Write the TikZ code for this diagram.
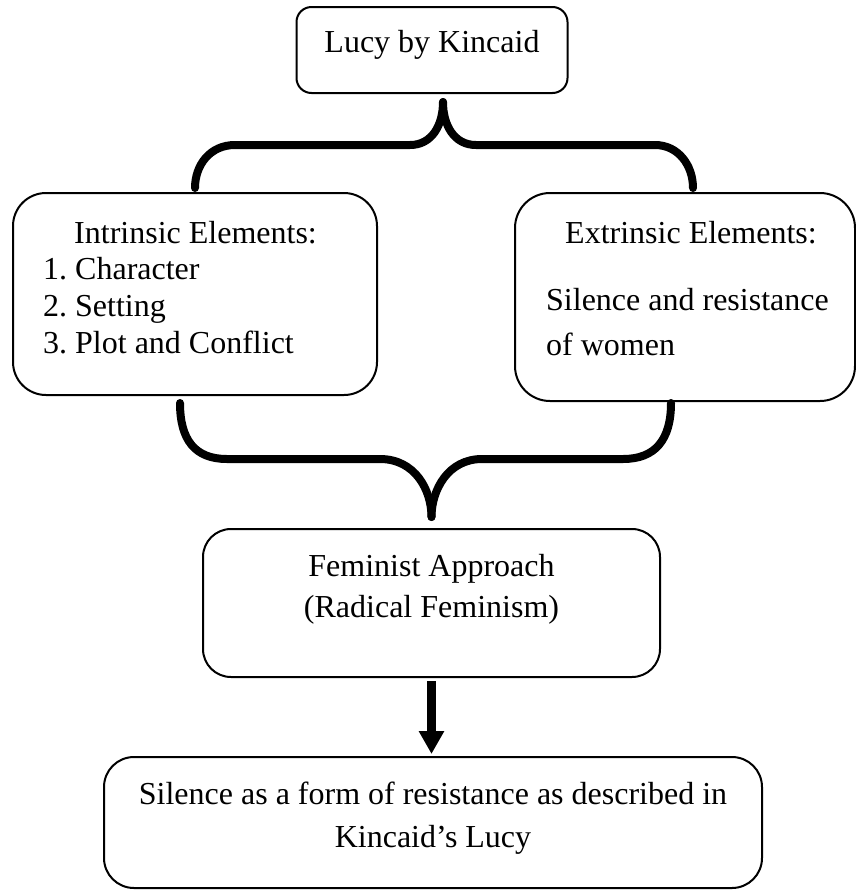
\documentclass[tikz,border=0pt]{standalone}
\usepackage{fontspec}
\setmainfont{Liberation Serif}
\usetikzlibrary{arrows.meta}
\frenchspacing

\begin{document}
\begin{tikzpicture}[x=1pt, y=-1pt,
    box/.style={draw, line width=2pt, rounded corners=#1, inner sep=0pt},
    box/.default=20pt,
    brace/.style={line width=8pt, line cap=round},
    txt/.style={font=\fontsize{32}{41}\selectfont, inner sep=0pt}]
    \useasboundingbox (0,0) rectangle (856,892);

    % Title
    \node[box=15pt, minimum width=271pt, minimum height=86pt] (lucy) at (432,50) {};
    \node[txt, anchor=base] (lucytxt) at (432,52) {Lucy by Kincaid};

    % Intrinsic
    \node[box=33pt, minimum width=364pt, minimum height=202pt] (intr) at (195,294) {};
    \node[txt, anchor=base west] (intrhead) at (74,243) {Intrinsic Elements:};
    \foreach \el [count=\i] in {1. Character, 2. Setting, 3. Plot and Conflict}
        \node[txt, anchor=base west] (intr\i) at (43,243+36.7*\i) {\el};

    % Extrinsic
    \node[box=35pt, minimum width=340pt, minimum height=208pt] (extr) at (685,297) {};
    \node[txt, anchor=base west] (extrhead) at (565,243) {Extrinsic Elements:};
    \node[txt, anchor=base west] (extr1) at (546,310) {Silence and resistance};
    \node[txt, anchor=base west] (extr2) at (546,355) {of women};

    % Approach
    \node[box=28pt, minimum width=457pt, minimum height=148pt] (fem) at (431.5,603) {};
    \node[txt, anchor=base] (fem1) at (431.5,576) {Feminist Approach};
    \node[txt, anchor=base] (fem2) at (431.5,617) {(Radical Feminism)};

    % Result
    \node[box=30pt, minimum width=658pt, minimum height=131pt] (sil) at (433,822.5) {};
    \node[txt, anchor=base] (sil1) at (433,804) {Silence as a form of resistance as described in};
    \node[txt, anchor=base] (sil2) at (433,847) {Kincaid’s Lucy};

    % Braces
    \draw[brace] ([yshift=4pt]intr.north) .. controls (195,165) and (210,145) .. (235,145)
        -- (410,145) .. controls (432,145) and (443,125) .. ([xshift=11pt, yshift=-8pt]lucy.south);
    \draw[brace] ([xshift=8pt, yshift=4pt]extr.north) .. controls (693,165) and (678,145) .. (655,145)
        -- (476,145) .. controls (454,145) and (443,125) .. ([xshift=11pt, yshift=-8pt]lucy.south);
    \draw[brace] ([xshift=-15pt, yshift=-7pt]intr.south) .. controls (180,440) and (195,459) .. (227,459)
        -- (380,459) .. controls (415,459) and (431.5,490) .. ([yshift=11pt]fem.north);
    \draw[brace] ([xshift=-14pt, yshift=-1pt]extr.south) .. controls (671,440) and (655,459) .. (623,459)
        -- (482,459) .. controls (448,459) and (431.5,490) .. ([yshift=11pt]fem.north);

    \draw[line width=9pt, -{Triangle[width=24pt, length=23pt]}, shorten <=3pt, shorten >=2pt]
        (fem.south) -- (fem.south |- sil.north);
\end{tikzpicture}
\end{document}
